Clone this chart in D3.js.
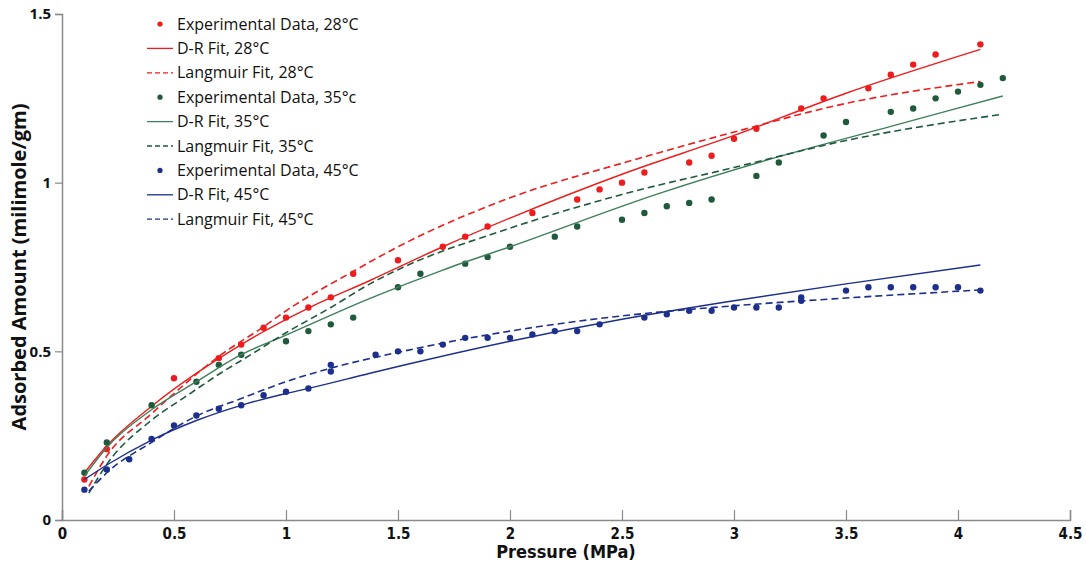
<!DOCTYPE html>
<html lang="en">
<head>
<meta charset="UTF-8">
<title>Adsorption isotherms</title>
<script src="https://d3js.org/d3.v7.min.js"></script>
<style>
  body { margin: 0; background: #fff; }
  .legend text { font-family: "Open Sans", sans-serif; font-size: 16px; fill: #111; }
  .ytick text { font-family: "Open Sans", sans-serif; font-weight: bold; font-size: 15px; fill: #111; }
  .xtick text { font-family: "Liberation Sans Narrow", "DejaVu Sans Condensed", sans-serif; font-weight: bold; font-size: 15px; fill: #111; }
  .title { font-family: "Open Sans", sans-serif; font-weight: bold; font-size: 20px; fill: #111; }
</style>
</head>
<body>
<svg width="1086" height="568"></svg>
<script>
// experimental points: [pressure MPa, adsorbed amount]
const exp28 = [[0.1,0.12],[0.2,0.21],[0.5,0.42],[0.7,0.48],[0.8,0.52],[0.9,0.57],[1.0,0.60],[1.1,0.63],[1.2,0.66],[1.3,0.73],
  [1.5,0.77],[1.7,0.81],[1.8,0.84],[1.9,0.87],[2.1,0.91],[2.3,0.95],[2.4,0.98],[2.5,1.00],[2.6,1.03],[2.8,1.06],[2.9,1.08],
  [3.0,1.13],[3.1,1.16],[3.3,1.22],[3.4,1.25],[3.6,1.28],[3.7,1.32],[3.8,1.35],[3.9,1.38],[4.1,1.41]];
const exp35 = [[0.1,0.14],[0.2,0.23],[0.4,0.34],[0.6,0.41],[0.7,0.46],[0.8,0.49],[1.0,0.53],[1.1,0.56],[1.2,0.58],[1.3,0.60],
  [1.5,0.69],[1.6,0.73],[1.8,0.76],[1.9,0.78],[2.0,0.81],[2.2,0.84],[2.3,0.87],[2.5,0.89],[2.6,0.91],[2.7,0.93],[2.8,0.94],
  [2.9,0.95],[3.1,1.02],[3.2,1.06],[3.4,1.14],[3.5,1.18],[3.7,1.21],[3.8,1.22],[3.9,1.25],[4.0,1.27],[4.1,1.29],[4.2,1.31]];
const exp45 = [[0.1,0.09],[0.2,0.15],[0.3,0.18],[0.4,0.24],[0.5,0.28],[0.6,0.31],[0.7,0.33],[0.8,0.34],[0.9,0.37],[1.0,0.38],
  [1.1,0.39],[1.2,0.46],[1.2,0.44],[1.4,0.49],[1.5,0.50],[1.6,0.50],[1.7,0.52],[1.8,0.54],[1.9,0.54],[2.0,0.54],[2.1,0.55],
  [2.2,0.56],[2.3,0.56],[2.4,0.58],[2.6,0.60],[2.7,0.61],[2.8,0.62],[2.9,0.62],[3.0,0.63],[3.1,0.63],[3.2,0.63],[3.3,0.66],
  [3.3,0.65],[3.5,0.68],[3.6,0.69],[3.7,0.69],[3.8,0.69],[3.9,0.69],[4.0,0.69],[4.1,0.68]];

// fitted curves
const dr28 = [[0.1,0.14],[0.2,0.22],[0.4,0.337],[0.8,0.52],[1.1,0.628],[1.375,0.71],[1.7,0.81],[2.0,0.895],[2.5,1.025],[3.0,1.14],[3.5,1.265],[4.1,1.395]];
const lang28 = [[0.12,0.10],[0.2,0.19],[0.4,0.315],[0.5,0.375],[0.7,0.485],[0.9,0.573],[1.0,0.62],[1.3,0.737],[1.5,0.81],[2.0,0.955],[2.55,1.067],[3.0,1.15],[3.5,1.235],[4.1,1.30]];
const dr35 = [[0.1,0.13],[0.2,0.215],[0.4,0.327],[0.6,0.41],[0.8,0.49],[1.0,0.548],[1.375,0.657],[1.7,0.741],[2.0,0.81],[2.67,0.969],[3.2,1.077],[3.7,1.167],[4.2,1.257]];
const lang35 = [[0.12,0.08],[0.2,0.165],[0.4,0.296],[0.55,0.365],[0.7,0.432],[0.85,0.493],[1.0,0.555],[1.2,0.63],[1.375,0.70],[1.5,0.742],[2.0,0.865],[2.5,0.965],[3.0,1.045],[3.5,1.125],[4.2,1.203]];
const dr45 = [[0.1,0.12],[0.2,0.163],[0.4,0.237],[0.6,0.295],[0.8,0.34],[1.0,0.375],[1.1,0.39],[1.375,0.435],[1.5,0.455],[2.0,0.53],[2.5,0.595],[3.0,0.65],[3.5,0.70],[4.1,0.756]];
const lang45 = [[0.12,0.085],[0.2,0.14],[0.4,0.23],[0.6,0.308],[0.8,0.36],[1.0,0.41],[1.2,0.45],[1.5,0.497],[2.0,0.56],[2.5,0.605],[3.0,0.635],[3.5,0.658],[4.1,0.682]];

const xTicks = [0, 0.5, 1, 1.5, 2, 2.5, 3, 3.5, 4, 4.5];
const yTicks = [0, 0.5, 1, 1.5];

const red = "#ee1c1c", green = "#1f5a3c", greenLine = "#3f7f5c", blue = "#1c2f8c";

const series = [
  { label: "Experimental Data, 28°C", type: "dot", data: exp28, color: red },
  { label: "D-R Fit, 28°C", type: "solid", data: dr28, color: red },
  { label: "Langmuir Fit, 28°C", type: "dash", data: lang28, color: red },
  { label: "Experimental Data, 35°c", type: "dot", data: exp35, color: green },
  { label: "D-R Fit, 35°C", type: "solid", data: dr35, color: greenLine },
  { label: "Langmuir Fit, 35°C", type: "dash", data: lang35, color: green },
  { label: "Experimental Data, 45°C", type: "dot", data: exp45, color: blue },
  { label: "D-R Fit, 45°C", type: "solid", data: dr45, color: blue },
  { label: "Langmuir Fit, 45°C", type: "dash", data: lang45, color: blue }
];

const margin = { top: 14, right: 16, bottom: 48, left: 62 };
const width = 1086, height = 568;
const svg = d3.select("svg");

const x = d3.scaleLinear().domain([0, 4.5]).range([margin.left, width - margin.right]);
const y = d3.scaleLinear().domain([0, 1.5]).range([height - margin.bottom, margin.top]);

// axes
const xAxis = svg.append("g").attr("class", "xtick")
  .attr("transform", `translate(0,${y(0)})`)
  .call(d3.axisBottom(x).tickValues(xTicks).tickFormat(d3.format("")).tickSize(-10).tickPadding(14));
const yAxis = svg.append("g").attr("class", "ytick")
  .attr("transform", `translate(${x(0)},0)`)
  .call(d3.axisLeft(y).tickValues(yTicks).tickFormat(d3.format("")).tickSize(7).tickPadding(4));
[xAxis, yAxis].forEach(g => {
  g.select(".domain").attr("stroke", "#8a8a8a").attr("stroke-width", 1.5);
  g.selectAll(".tick line").attr("stroke", "#8a8a8a").attr("stroke-width", 1.2);
});
xAxis.selectAll(".tick text").attr("dy", "0.3em");

svg.append("text").attr("class", "title")
  .attr("x", (x(0) + x(4.5)) / 2).attr("y", 558).attr("text-anchor", "middle")
  .style("font-size", "18px")
  .style("font-family", "'Liberation Sans Narrow', 'DejaVu Sans Condensed', sans-serif")
  .text("Pressure (MPa)");
svg.append("text").attr("class", "title")
  .attr("transform", `translate(26,${(y(0) + y(1.5)) / 2}) rotate(-90)`)
  .attr("text-anchor", "middle")
  .text("Adsorbed Amount (milimole/gm)");

// lines and dots
const line = d3.line().x(d => x(d[0])).y(d => y(d[1])).curve(d3.curveMonotoneX);
series.forEach(s => {
  if (s.type === "dot") {
    svg.append("g").selectAll("circle").data(s.data).join("circle")
      .attr("cx", d => x(d[0])).attr("cy", d => y(d[1])).attr("r", 3.2)
      .attr("fill", s.color);
  } else {
    svg.append("path").datum(s.data)
      .attr("fill", "none").attr("stroke", s.color)
      .attr("stroke-width", s.type === "dash" ? 1.6 : 1.4)
      .attr("stroke-dasharray", s.type === "dash" ? "7,4" : null)
      .attr("d", line);
  }
});

// legend
const legend = svg.append("g").attr("class", "legend");
series.forEach((s, i) => {
  const ly = 24 + i * 24.4;
  if (s.type === "dot") {
    legend.append("circle").attr("cx", 160).attr("cy", ly).attr("r", 2.6).attr("fill", s.color);
  } else {
    legend.append("line").attr("x1", 147).attr("x2", 173).attr("y1", ly).attr("y2", ly)
      .attr("stroke", s.color).attr("stroke-width", 1.3)
      .attr("stroke-dasharray", s.type === "dash" ? "5,3" : null);
  }
  legend.append("text").attr("x", 177).attr("y", ly).attr("dy", "0.35em").text(s.label);
});
</script>
</body>
</html>
